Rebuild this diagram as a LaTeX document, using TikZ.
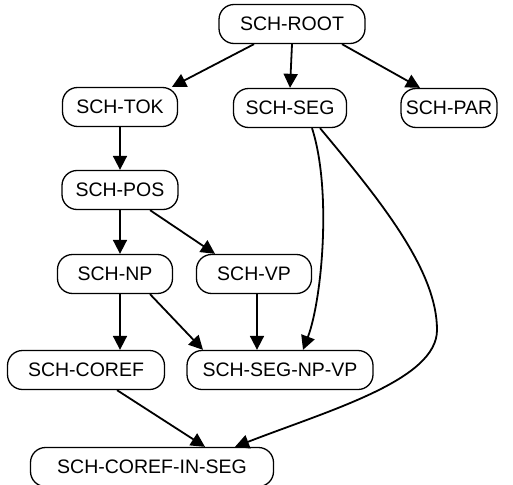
\documentclass[tikz,border=0pt]{standalone}
\usepackage{fontspec}
\setmainfont{Liberation Sans}
\usetikzlibrary{arrows.meta}
\tikzset{
  box/.style={draw, line width=1.3pt, rounded corners=15pt, minimum height=39pt, inner sep=0pt, font=\fontsize{19.5}{22}\selectfont},
  edge/.style={line width=1.8pt, -{Triangle[length=14pt,width=14pt]}}
}
\begin{document}
\begin{tikzpicture}[x=1pt,y=-1pt]
\useasboundingbox (0,0) rectangle (513,484);
\node[box, minimum width=146pt] (root) at (292,24) {SCH-ROOT};
\node[box, minimum width=115pt] (tok) at (120,107) {SCH-TOK};
\node[box, minimum width=113pt] (seg) at (290,108) {SCH-SEG};
\node[box, minimum width=96pt] (par) at (449,108) {SCH-PAR};
\node[box, minimum width=116pt] (pos) at (120,190) {SCH-POS};
\node[box, minimum width=115pt] (np) at (115,274) {SCH-NP};
\node[box, minimum width=115pt] (vp) at (254,274) {SCH-VP};
\node[box, minimum width=157pt] (coref) at (86,370) {SCH-COREF};
\node[box, minimum width=186pt] (segnpvp) at (280,370) {SCH-SEG-NP-VP};
\node[box, minimum width=243pt] (corefinseg) at (152,467) {SCH-COREF-IN-SEG};

\draw[edge] ([xshift=-38pt]root.south) -- ([xshift=52pt]tok.north);
\draw[edge] (root.south) -- (seg.north);
\draw[edge] ([xshift=50pt]root.south) -- ([xshift=-29pt]par.north);
\draw[edge] (tok) -- (pos);
\draw[edge] (pos.south) -- (pos.south |- np.north);
\draw[edge] ([xshift=30pt]pos.south) -- ([xshift=-39pt]vp.north);
\draw[edge] (np.south -| coref.north) ++(34pt,0) -- ([xshift=34pt]coref.north);
\draw[edge] ([xshift=35pt]np.south) -- ([xshift=-77pt]segnpvp.north);
\draw[edge] ([xshift=3pt]vp.south) -- ([xshift=-23pt]segnpvp.north);
\draw[edge] ([xshift=22pt]seg.south) .. controls (332,190) and (322,300) .. ([xshift=23pt]segnpvp.north);
\draw[edge] ([xshift=30pt]seg.south) .. controls (380,200) and (437,270) .. (437,330) .. controls (437,380) and (330,410) .. ([xshift=83pt]corefinseg.north);
\draw[edge] ([xshift=31pt]coref.south) -- ([xshift=53pt]corefinseg.north);
\end{tikzpicture}
\end{document}
